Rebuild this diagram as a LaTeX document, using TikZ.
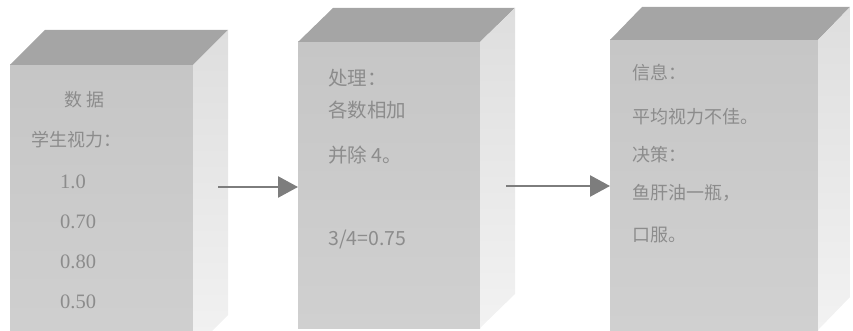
\documentclass[tikz,border=0pt]{standalone}
\usepackage{fontspec}
\setmainfont{Liberation Serif}
\newfontfamily\cjk{Noto Sans CJK SC}
\usetikzlibrary{arrows.meta}
\definecolor{frontTop}{RGB}{198,198,198}
\definecolor{frontBot}{RGB}{208,208,208}
\definecolor{topFace}{RGB}{165,165,165}
\definecolor{sideTop}{RGB}{222,222,222}
\definecolor{sideBot}{RGB}{242,242,242}
\definecolor{txtgray}{RGB}{140,140,140}
\definecolor{arrgray}{RGB}{125,125,125}
\tikzset{
  frontface/.style={rectangle, draw=none, inner sep=0pt, outer sep=0pt, anchor=north west,
    top color=frontTop, bottom color=frontBot},
  topface/.style={fill=topFace, draw=none},
  sideface/.style={top color=sideTop, bottom color=sideBot, draw=none},
  lbl/.style={text=txtgray, inner sep=0pt, anchor=west, font=\cjk\fontsize{18}{20}\selectfont},
  lblb/.style={lbl, font=\cjk\fontsize{19.5}{21}\selectfont},
  num/.style={text=txtgray, inner sep=0pt, anchor=west, font=\fontsize{20.5}{22}\selectfont},
  flow/.style={draw=arrgray, line width=2.6pt, -{Triangle[length=20pt,width=21pt]}}
}
\begin{document}
\begin{tikzpicture}[x=1pt,y=-1pt]
\useasboundingbox (0,0) rectangle (853,331);
% box 1
\node[frontface, minimum width=183pt, minimum height=285pt] (b1) at (10,65) {};
\fill[topface] (b1.north west) -- ++(35,-35) -- ++(183,0) -- (b1.north east) -- cycle;
\shade[sideface] (b1.north east) -- ++(35,-35) -- ++(0,285) -- (b1.south east) -- cycle;
% box 2
\node[frontface, minimum width=182pt, minimum height=286pt] (b2) at (298,42) {};
\fill[topface] (b2.north west) -- ++(35,-34) -- ++(182,0) -- (b2.north east) -- cycle;
\shade[sideface] (b2.north east) -- ++(35,-34) -- ++(0,286) -- (b2.south east) -- cycle;
% box 3
\node[frontface, minimum width=208pt, minimum height=290pt] (b3) at (610,40) {};
\fill[topface] (b3.north west) -- ++(32,-33) -- ++(208,0) -- (b3.north east) -- cycle;
\shade[sideface] (b3.north east) -- ++(32,-33) -- ++(0,290) -- (b3.south east) -- cycle;
% texts box 1
\node[lbl, anchor=center] (t11) at (85,100) {数\ 据};
\node[lbl] (t12) at (31,140) {学生视力：};
\node[num] (t13) at (60,182) {1.0};
\node[num] (t14) at (60,222) {0.70};
\node[num] (t15) at (60,262) {0.80};
\node[num] (t16) at (60,302) {0.50};
% texts box 2
\node[lblb] (t21) at (328,78) {处理：};
\node[lblb] (t22) at (328,110) {各数相加};
\node[lblb] (t23) at (328,155) {并除 4。};
\node[lblb] (t24) at (328,240) {3/4=0.75};
% texts box 3
\node[lbl] (t31) at (632,73) {信息：};
\node[lbl] (t32) at (632,117) {平均视力不佳。};
\node[lbl] (t33) at (632,155) {决策：};
\node[lbl] (t34) at (632,193) {鱼肝油一瓶，};
\node[lbl] (t35) at (632,235) {口服。};
% arrows
\coordinate (a1s) at (218,187);
\coordinate (a2s) at (506,186);
\draw[flow] (a1s) -- (a1s -| b2.west);
\draw[flow] (a2s) -- (a2s -| b3.west);
\end{tikzpicture}
\end{document}
